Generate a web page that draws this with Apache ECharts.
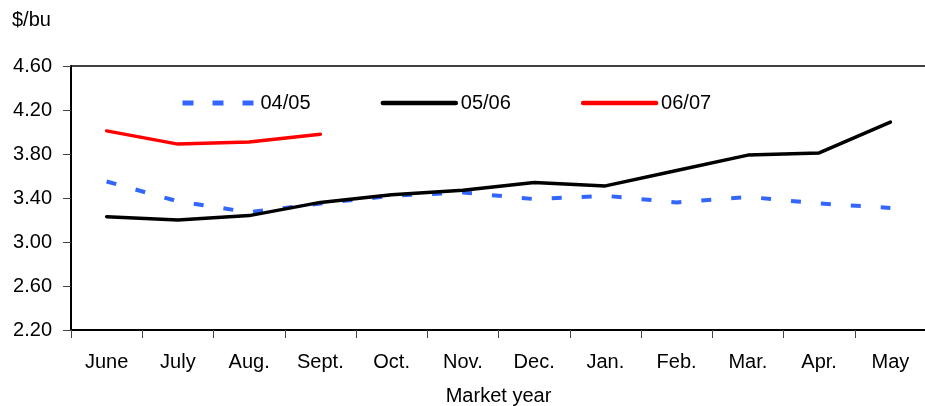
<!DOCTYPE html>
<html>
<head>
<meta charset="utf-8">
<script src="https://cdn.jsdelivr.net/npm/echarts@6/dist/echarts.min.js"></script>
<style>
  html, body { margin: 0; padding: 0; background: #fff; }
  #chart { width: 925px; height: 406px; }
</style>
</head>
<body>
<div id="chart"></div>
<script>
// Monthly prices, $/bu, by marketing year
const months = ['June', 'July', 'Aug.', 'Sept.', 'Oct.', 'Nov.', 'Dec.', 'Jan.', 'Feb.', 'Mar.', 'Apr.', 'May'];
const my0405 = [3.55, 3.37, 3.27, 3.35, 3.42, 3.45, 3.39, 3.42, 3.36, 3.41, 3.35, 3.31];
const my0506 = [3.23, 3.20, 3.24, 3.36, 3.43, 3.47, 3.54, 3.51, 3.65, 3.79, 3.81, 4.09];
const my0607 = [4.01, 3.89, 3.91, 3.98];
const yTicks = [2.20, 2.60, 3.00, 3.40, 3.80, 4.20, 4.60];

const FONT = '"Liberation Sans", Arial, sans-serif';
const BLUE = '#3366ff', RED = '#ff0000', BLACK = '#000000';
const chart = echarts.init(document.getElementById('chart'), null, { renderer: 'canvas' });

chart.setOption({
  animation: false,
  backgroundColor: '#fff',
  textStyle: { fontFamily: FONT, color: '#000' },
  graphic: [{
    type: 'text', left: 12, top: 10,
    style: { text: '$/bu', font: '20px ' + FONT, fill: '#000' }
  }],
  legend: {
    left: 180, top: 93, padding: 0,
    itemWidth: 73, itemHeight: 18, itemGap: 70,
    textStyle: { fontSize: 20, fontFamily: FONT, color: '#000' },
    itemStyle: { opacity: 0 },
    data: [
      { name: '04/05', lineStyle: { color: BLUE, width: 5, type: [11, 19], cap: 'butt' } },
      { name: '05/06', lineStyle: { color: BLACK, width: 4.5, cap: 'round' } },
      { name: '06/07', lineStyle: { color: RED, width: 4.5, cap: 'round' } }
    ]
  },
  grid: {
    left: 71, top: 66, width: 855, height: 264,
    containLabel: false, outerBoundsMode: 'none'
  },
  xAxis: {
    type: 'category',
    data: months,
    boundaryGap: true,
    axisLine: { lineStyle: { color: '#000', width: 2 } },
    axisTick: { show: true, length: 8, lineStyle: { color: '#444', width: 1 } },
    axisLabel: { fontSize: 20, fontFamily: FONT, color: '#000', margin: 22 },
    name: 'Market year',
    nameLocation: 'middle',
    nameGap: 56,
    nameTextStyle: { fontSize: 20, fontFamily: FONT, color: '#000' }
  },
  yAxis: {
    type: 'value',
    min: yTicks[0], max: yTicks[yTicks.length - 1], interval: 0.4,
    axisLine: { show: true, lineStyle: { color: '#000', width: 2 } },
    axisTick: { show: true, length: 8, lineStyle: { color: '#444', width: 1 } },
    axisLabel: {
      fontSize: 20, fontFamily: FONT, color: '#000', margin: 19,
      formatter: v => v.toFixed(2)
    },
    splitLine: {
      show: true,
      lineStyle: { color: ['none', 'none', 'none', 'none', 'none', 'none', '#000'], width: 1.5 }
    }
  },
  series: [
    {
      name: '04/05', type: 'line', data: my0405, symbol: 'none',
      lineStyle: { color: BLUE, width: 4, type: [10, 20], cap: 'butt' },
      itemStyle: { color: BLUE }, z: 2
    },
    {
      name: '05/06', type: 'line', data: my0506, symbol: 'none',
      lineStyle: { color: BLACK, width: 3.5, cap: 'round', join: 'round' },
      itemStyle: { color: BLACK }, z: 3
    },
    {
      name: '06/07', type: 'line', data: my0607, symbol: 'none',
      lineStyle: { color: RED, width: 3.5, cap: 'round', join: 'round' },
      itemStyle: { color: RED }, z: 4
    }
  ]
});
</script>
</body>
</html>
